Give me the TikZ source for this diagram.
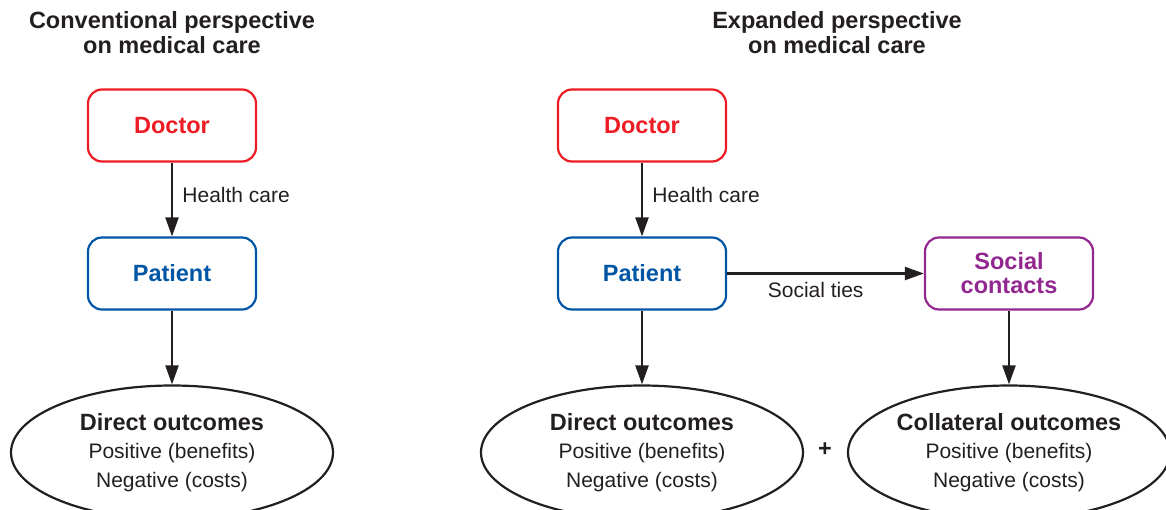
\documentclass[tikz,border=0pt]{standalone}
\usepackage{fontspec}
\setmainfont{Liberation Sans}
\usetikzlibrary{shapes.geometric, arrows.meta}
\definecolor{docred}{RGB}{237,28,36}
\definecolor{patblue}{RGB}{0,86,164}
\definecolor{socpurple}{RGB}{146,39,143}
\definecolor{inkblack}{RGB}{35,31,32}
\tikzset{
  box/.style={draw, rounded corners=14pt, line width=2.2pt, minimum width=168pt,
    minimum height=72pt, align=center, font=\fontsize{23.5}{24}\selectfont\bfseries},
  outcome/.style={ellipse, draw=inkblack, line width=2.2pt, minimum width=322pt,
    minimum height=134pt, inner sep=0pt, align=center, text=inkblack,
    font=\fontsize{21}{28.5}\selectfont},
  link/.style={draw=inkblack, line width=2.2pt, -{Triangle[length=19pt,width=13pt]}},
  lbl/.style={font=\fontsize{21}{24}\selectfont, text=inkblack},
  heading/.style={font=\fontsize{23.5}{25}\selectfont\bfseries, align=center, text=inkblack}
}
\begin{document}
\begin{tikzpicture}[x=1pt, y=-1pt]
		\useasboundingbox (0,0) rectangle (1166,509);
		% conventional perspective
		\node[heading] (head1) at (172,32.5) {Conventional perspective\\on medical care};
		\node[box, draw=docred, text=docred] (doc1) at (172,125.5) {Doctor};
		\node[box, draw=patblue, text=patblue] (pat1) at (172,273.5) {Patient};
		\node[outcome] (dir1) at (172,452.5) {{\fontsize{23.5}{28.5}\selectfont\bfseries Direct outcomes}\\Positive (benefits)\\Negative (costs)};
		\draw[link] (doc1) -- node[lbl, anchor=west, xshift=6pt, yshift=5pt] {Health care} (pat1);
		\draw[link] (pat1) -- (dir1);
		% expanded perspective
		\node[heading] (head2) at (837,32.5) {Expanded perspective\\on medical care};
		\node[box, draw=docred, text=docred] (doc2) at (642,125.5) {Doctor};
		\node[box, draw=patblue, text=patblue] (pat2) at (642,273.5) {Patient};
		\node[box, draw=socpurple, text=socpurple] (soc2) at (1009,273.5) {Social\\contacts};
		\node[outcome] (dir2) at (642,452.5) {{\fontsize{23.5}{28.5}\selectfont\bfseries Direct outcomes}\\Positive (benefits)\\Negative (costs)};
		\node[outcome] (col2) at (1009,452.5) {{\fontsize{23.5}{28.5}\selectfont\bfseries Collateral outcomes}\\Positive (benefits)\\Negative (costs)};
		\node[font=\fontsize{23.5}{24}\selectfont\bfseries, text=inkblack] (plus) at (825,450) {+};
		\draw[link] (doc2) -- node[lbl, anchor=west, xshift=6pt, yshift=5pt] {Health care} (pat2);
		\draw[link] (pat2) -- (dir2);
		\draw[link] (pat2) -- node[lbl, below, pos=0.45, yshift=-4pt] {Social ties} (soc2);
		\draw[link] (soc2) -- (col2);
\end{tikzpicture}
\end{document}
